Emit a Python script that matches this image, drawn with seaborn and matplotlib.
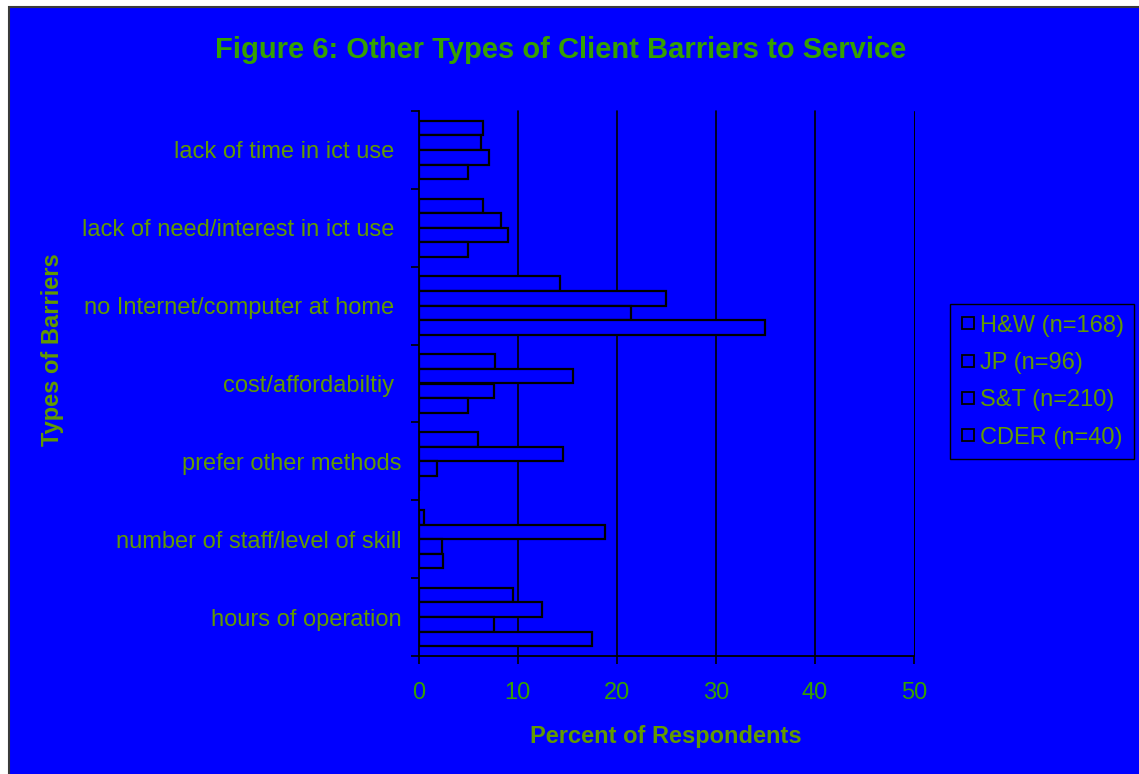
import matplotlib
matplotlib.use("Agg")
import matplotlib.pyplot as plt
from matplotlib.lines import Line2D
from matplotlib.patches import Rectangle
from matplotlib.ticker import FixedLocator
import seaborn as sns
import pandas as pd

# Barrier categories (top to bottom) and percent of respondents per group
barriers = [
    "lack of time in ict use ",
    "lack of need/interest in ict use ",
    "no Internet/computer at home ",
    "cost/affordabiltiy ",
    "prefer other methods",
    "number of staff/level of skill",
    "hours of operation",
]
groups = ["H&W (n=168)", "JP (n=96)", "S&T (n=210)", "CDER (n=40)"]
hw = [6.5, 6.5, 14.3, 7.7, 6.0, 0.6, 9.5]
jp = [6.3, 8.3, 25.0, 15.6, 14.6, 18.8, 12.5]
st = [7.1, 9.0, 21.4, 7.6, 1.9, 2.4, 7.6]
cder = [5.0, 5.0, 35.0, 5.0, 0.0, 2.5, 17.5]
x_ticks = [0, 10, 20, 30, 40, 50]

BLUE = "#0000FF"
OLIVE = "#629A00"
GREEN = "#35A000"

rows = []
for g, vals in zip(groups, [hw, jp, st, cder]):
    for b, v in zip(barriers, vals):
        rows.append({"Barrier": b, "Group": g, "Percent": v})
df = pd.DataFrame(rows)

sns.set_theme(style="white")
plt.rcParams["font.family"] = ["Liberation Sans", "DejaVu Sans"]

W, H = 1139, 774
fig = plt.figure(figsize=(W / 100, H / 100), dpi=100, facecolor="white")
fig.patches.append(Rectangle((9 / W, -0.01), 1.0, 1 - 7 / H + 0.01,
                             transform=fig.transFigure, facecolor=BLUE,
                             edgecolor="#3a3a3a", linewidth=1.5, zorder=-10))

ax = fig.add_axes([418.5 / W, 1 - 656 / H, (914 - 418.5) / W, (656 - 111) / H])
ax.set_facecolor(BLUE)

sns.barplot(data=df, y="Barrier", x="Percent", hue="Group",
            order=barriers, hue_order=groups, orient="h",
            width=0.75, palette=[BLUE] * 4, saturation=1,
            edgecolor="black", linewidth=1.6, ax=ax, legend=False,
            errorbar=None, zorder=3)

ax.set_xlim(0, 50)
ax.set_ylim(len(barriers) - 0.5, -0.5)
ax.set_xticks(x_ticks)
ax.set_xticklabels([str(t) for t in x_ticks])

# vertical gridlines
for t in x_ticks[1:]:
    ax.axvline(t, color="black", lw=1.2 if t < 50 else 0.7, zorder=1,
               clip_on=False)

for s in ["top", "right"]:
    ax.spines[s].set_visible(False)
for s in ["left", "bottom"]:
    ax.spines[s].set_color("black")
    ax.spines[s].set_linewidth(1.3)
    ax.spines[s].set_zorder(5)

ax.tick_params(axis="x", which="major", direction="out", length=5.5,
               width=1.2, color="black", labelcolor=GREEN, labelsize=17, pad=13,
               bottom=True)
ax.tick_params(axis="y", which="major", length=0, labelcolor=OLIVE,
               labelsize=17, pad=12.5, left=True)
ax.yaxis.set_minor_locator(FixedLocator([i - 0.5 for i in range(len(barriers) + 1)]))
ax.tick_params(axis="y", which="minor", direction="out", length=5.5,
               width=1.2, color="black", left=True)

ax.set_xlabel("Percent of Respondents", fontsize=17, fontweight="bold",
              color=OLIVE, labelpad=15)
ax.set_ylabel("")
fig.text(53 / W, 1 - 350 / H, "Types of Barriers", rotation=90,
         fontsize=17, fontweight="bold", color=OLIVE, ha="center", va="center")

fig.text(561 / W, 1 - 50 / H, "Figure 6: Other Types of Client Barriers to Service",
         fontsize=21, fontweight="bold", color=GREEN, ha="center", va="center")

handles = [Line2D([], [], marker="s", linestyle="none", markersize=9,
                  markerfacecolor=BLUE, markeredgecolor="black",
                  markeredgewidth=1.3) for _ in groups]
leg = fig.legend(handles, groups, loc="upper left",
                 bbox_to_anchor=(950 / W, 1 - 304 / H),
                 bbox_transform=fig.transFigure,
                 fontsize=17, labelcolor=OLIVE, frameon=True, fancybox=False,
                 facecolor=BLUE, edgecolor="black", framealpha=1,
                 handlelength=0.6, handletextpad=0.2, labelspacing=0.65,
                 borderpad=0.45, borderaxespad=0)
leg.get_frame().set_linewidth(1.0)

fig.savefig("out.png", dpi=100, facecolor="white")
